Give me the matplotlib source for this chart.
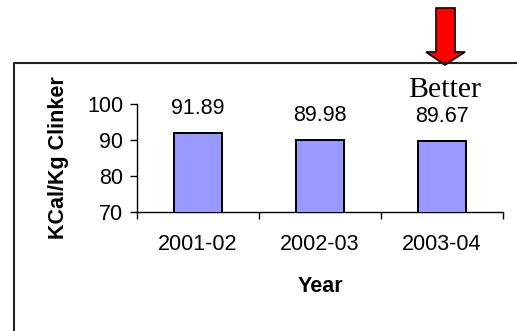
import matplotlib
matplotlib.use("Agg")
import matplotlib.pyplot as plt
from matplotlib.patches import Polygon
from matplotlib.lines import Line2D

years = ["2001-02", "2002-03", "2003-04"]
kcal = [91.89, 89.98, 89.67]

plt.rcParams['font.family'] = ['Liberation Sans', 'DejaVu Sans']

W, H = 517, 331
fig = plt.figure(figsize=(W / 100, H / 100), dpi=100)
ax = fig.add_axes([137 / W, 1 - 212 / H, 366 / W, 108 / H])

x = list(range(len(years)))
bars = ax.bar(x, kcal, width=0.4, color='#9999FF', edgecolor='black', linewidth=1.4, zorder=3)

for xi, v in zip(x, kcal):
    ax.annotate(f"{v:.2f}", (xi, v), xytext=(0, 18), textcoords='offset points',
                ha='center', va='center', fontsize=15.5)

ax.set_ylim(70, 100)
ax.set_yticks([70, 80, 90, 100])
ax.set_xlim(-0.5, len(years) - 0.5)
# ticks sit between categories, labels under the bars
ax.set_xticks([i - 0.5 for i in range(len(years) + 1)])
ax.set_xticklabels([])
ax.set_xticks(x, minor=True)
ax.set_xticklabels(years, minor=True)
ax.tick_params(axis='x', which='major', direction='out', length=5, width=1)
ax.tick_params(axis='x', which='minor', length=0, pad=16, labelsize=15.5)
ax.tick_params(axis='y', direction='out', length=5, width=1, pad=5, labelsize=15.5)

for side in ('top', 'right'):
    ax.spines[side].set_visible(False)
for side in ('left', 'bottom'):
    ax.spines[side].set_linewidth(1)

ax.set_xlabel('Year', fontsize=15.5, fontweight='bold', va='center')
ax.xaxis.set_label_coords(0.5, (212 - 287) / 108)
ax.set_ylabel('KCal/Kg Clinker', fontsize=15.5, fontweight='bold', va='center')
ax.yaxis.set_label_coords((59 - 137) / 366, 0.5)

# frame around the chart area (only top and left edges show)
fig.add_artist(Line2D([14 / W, 14 / W, 1.0], [0.0, 1 - 63 / H, 1 - 63 / H],
                      transform=fig.transFigure, color='#222222', linewidth=1.5))

# red arrow pointing down at "Better"
pts = [(436, 8), (455, 8), (455, 52), (465, 52), (445, 65), (426, 52), (436, 52)]
arrow = Polygon([(px, H - py) for px, py in pts], closed=True, transform=None,
                facecolor='#FF0000', edgecolor='black', linewidth=1.2)
fig.add_artist(arrow)

fig.text(408 / W, 1 - 97 / H, 'Better', family='Liberation Serif', fontsize=21.5,
         ha='left', va='baseline')

fig.savefig('out.png', dpi=100)
